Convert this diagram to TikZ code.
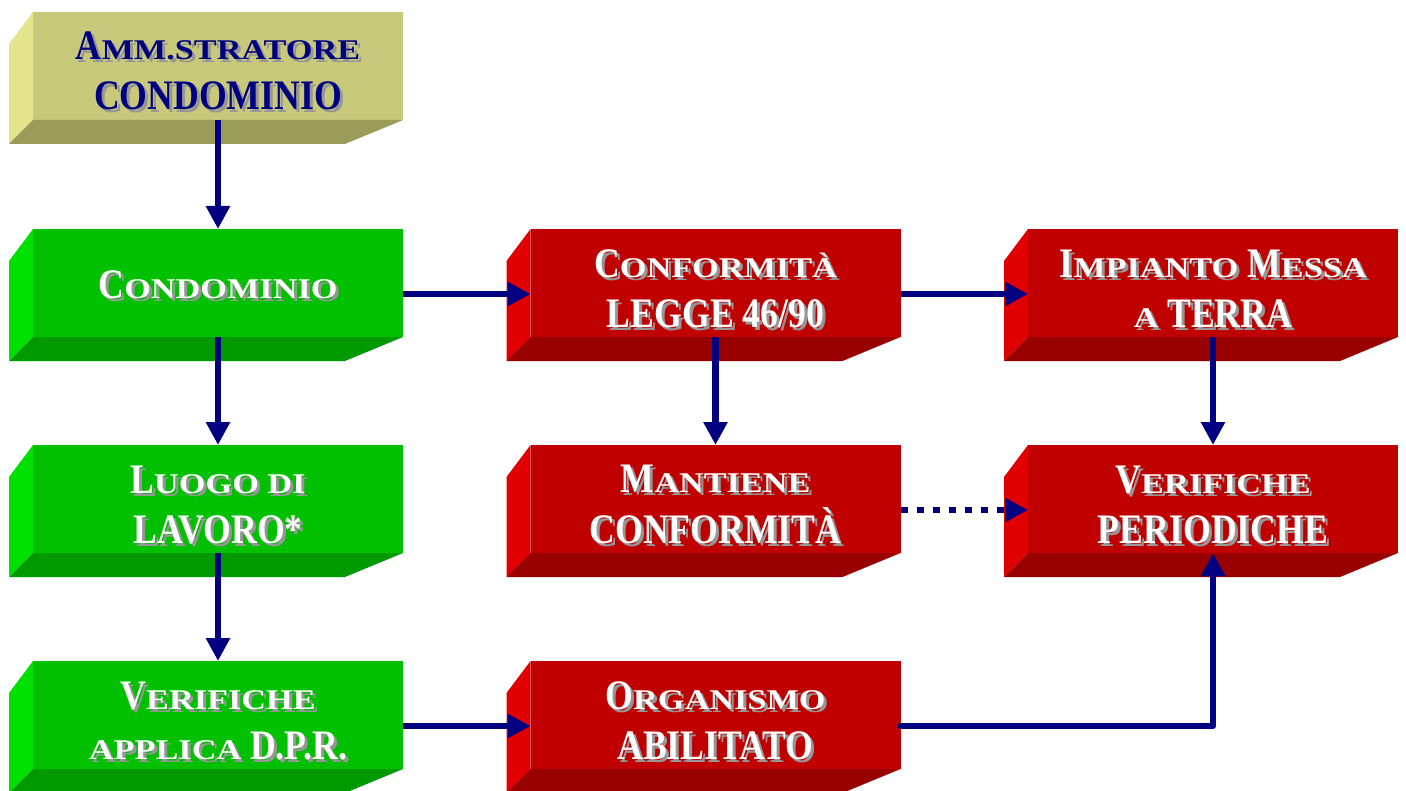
\documentclass[tikz,border=0pt]{standalone}
\usepackage{fontspec}
\setmainfont{Liberation Serif}[FakeStretch=0.85]
\usepackage{graphicx}
\usetikzlibrary{arrows.meta, calc}

\definecolor{olfront}{RGB}{200, 200, 122}
\definecolor{olleft}{RGB}{228, 228, 140}
\definecolor{olbot}{RGB}{155, 155, 90}
\definecolor{grfront}{RGB}{0, 192, 0}
\definecolor{grleft}{RGB}{0, 224, 0}
\definecolor{grbot}{RGB}{0, 153, 0}
\definecolor{rdfront}{RGB}{192, 0, 0}
\definecolor{rdleft}{RGB}{224, 0, 0}
\definecolor{rdbot}{RGB}{153, 0, 0}
\definecolor{navyline}{RGB}{0, 0, 128}
\definecolor{txtshade}{RGB}{150, 150, 150}

% small caps, made from capitals
\newcommand\Sc[1]{\scalebox{0.96}[0.68]{#1}}
% text with a grey shadow
\newcommand\shd[1]{\leavevmode\rlap{\kern1.5pt\raisebox{-1.5pt}{\color{txtshade}#1}}#1}
% lines of a box, set a little low
\newcommand\boxtext[2][-4.5pt]{\raisebox{#1}[\height][\depth]{\begin{tabular}{@{}c@{}}#2\end{tabular}}}
% left and lower faces of a box
\newcommand\sides[3]{%
  \fill[#2] ($(#1.north west)+(-24,32)$) -- (#1.north west) -- (#1.south west) -- ($(#1.south west)+(-24,24)$) -- cycle;
  \fill[#3] (#1.south west) -- (#1.south east) -- ($(#1.south east)+(-58,24)$) -- ($(#1.south west)+(-24,24)$) -- cycle;}

\begin{document}
\begin{tikzpicture}[x=0.5pt, y=-0.5pt,
  box/.style={minimum width=185pt, minimum height=54pt, inner sep=0pt, outer sep=0pt, font=\bfseries\fontsize{21}{25}\selectfont},
  obox/.style={box, fill=olfront, text=navyline},
  gbox/.style={box, fill=grfront, text=white},
  rbox/.style={box, fill=rdfront, text=white},
  link/.style={draw=navyline, line width=3.2pt, -{Triangle[length=11.5pt, width=11.5pt]}},
  dotlink/.style={link, dash pattern=on 3.5pt off 4.5pt}]
\useasboundingbox (0,0) rectangle (1406,791);

\node[obox] (amm) at (218,66) {\boxtext{\shd{A\Sc{MM.STRATORE}}\\\shd{CONDOMINIO}}};
\node[gbox] (condo) at (218,283) {\boxtext[-2.5pt]{\shd{C\Sc{ONDOMINIO}}}};
\node[gbox] (luogo) at (218,499) {\boxtext{\shd{L\Sc{UOGO DI}}\\\shd{LAVORO*}}};
\node[gbox] (verdpr) at (218,715) {\boxtext{\shd{V\Sc{ERIFICHE}}\\\shd{\Sc{APPLICA} D.P.R.}}};
\node[rbox] (conf) at (715.5,283) {\boxtext{\shd{C\Sc{ONFORMITÀ}}\\\shd{LEGGE 46/90}}};
\node[rbox] (mant) at (715.5,499) {\boxtext{\shd{M\Sc{ANTIENE}}\\\shd{CONFORMITÀ}}};
\node[rbox] (organ) at (715.5,715) {\boxtext{\shd{O\Sc{RGANISMO}}\\\shd{ABILITATO}}};
\node[rbox] (impianto) at (1213,283) {\boxtext{\shd{I\Sc{MPIANTO} M\Sc{ESSA}}\\\shd{\Sc{A} TERRA}}};
\node[rbox] (verper) at (1213,499) {\boxtext{\shd{V\Sc{ERIFICHE}}\\\shd{PERIODICHE}}};

\foreach \n/\l/\b in {amm/olleft/olbot, condo/grleft/grbot, luogo/grleft/grbot, verdpr/grleft/grbot,
  conf/rdleft/rdbot, mant/rdleft/rdbot, organ/rdleft/rdbot, impianto/rdleft/rdbot, verper/rdleft/rdbot}
  {\sides{\n}{\l}{\b}}

\draw[link] (amm.south) -- (condo.north);
\draw[link] (condo.south) -- (luogo.north);
\draw[link] (luogo.south) -- (verdpr.north);
\draw[link] (conf.south) -- (mant.north);
\draw[link] (impianto.south) -- (verper.north);
\draw[link] ([yshift=-5.5pt]condo.east) -- ([yshift=-5.5pt]conf.west);
\draw[link] ([yshift=-5.5pt]conf.east) -- ([yshift=-5.5pt]impianto.west);
\draw[link] ([yshift=-5.5pt]verdpr.east) -- ([yshift=-5.5pt]organ.west);
\draw[dotlink] ([yshift=-5.5pt]mant.east) -- ([yshift=-5.5pt]verper.west);
\draw[link, line cap=round, line join=round] ([yshift=-5.5pt]organ.east) -| (verper.south);
\end{tikzpicture}
\end{document}
